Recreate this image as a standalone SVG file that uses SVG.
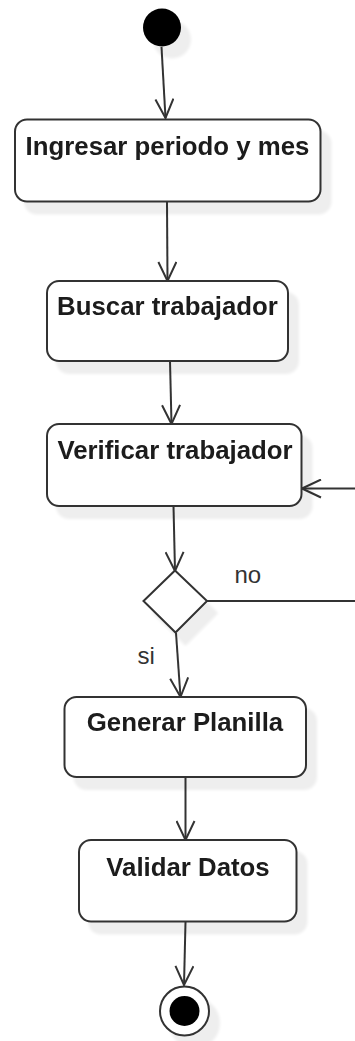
<svg xmlns="http://www.w3.org/2000/svg" width="355" height="1041" viewBox="0 0 355 1041">
  <defs>
    <style>
      .node { fill: #ffffff; stroke: #333333; stroke-width: 2; }
      .title { font-family: "Liberation Sans", Arial, sans-serif; font-size: 25.8px; font-weight: bold; fill: #1a1a1a; text-anchor: middle; }
      .guard { font-family: "Liberation Sans", Arial, sans-serif; font-size: 24px; fill: #333333; }
      .edge { fill: none; stroke: #333333; stroke-width: 2; }
    </style>
    <filter id="shadow" x="-20%" y="-20%" width="150%" height="160%">
      <feOffset in="SourceAlpha" dx="10" dy="12" result="off"/>
      <feGaussianBlur in="off" stdDeviation="1.5" result="blur"/>
      <feComponentTransfer in="blur" result="soft">
        <feFuncA type="linear" slope="0.07"/>
      </feComponentTransfer>
      <feMerge>
        <feMergeNode in="soft"/>
        <feMergeNode in="SourceGraphic"/>
      </feMerge>
    </filter>
    <marker id="open" viewBox="0 0 22 20" refX="20" refY="10" markerWidth="22" markerHeight="20" markerUnits="userSpaceOnUse" orient="auto">
      <path d="M1,1 L20,10 L1,19" fill="none" stroke="#333333" stroke-width="2"/>
    </marker>
  </defs>

  <rect width="355" height="1041" fill="#ffffff"/>

  <!-- connectors -->
  <g id="connectors">
    <path class="edge" d="M161.5,47 L165.5,118" marker-end="url(#open)"/>
    <path class="edge" d="M167,202 L167.5,281" marker-end="url(#open)"/>
    <path class="edge" d="M170,361 L171.5,424" marker-end="url(#open)"/>
    <path class="edge" d="M173.5,506 L175,571" marker-end="url(#open)"/>
    <path class="edge" d="M207,601 L355,601"/>
    <path class="edge" d="M355,488.5 L302,488.5" marker-end="url(#open)"/>
    <path class="edge" d="M176,633 L180.5,697" marker-end="url(#open)"/>
    <path class="edge" d="M185.5,777 L185.5,840" marker-end="url(#open)"/>
    <path class="edge" d="M185.5,922 L184,985" marker-end="url(#open)"/>
    <text class="guard" x="234.5" y="583">no</text>
    <text class="guard" x="137.5" y="664">si</text>
  </g>

  <!-- initial state -->
  <g id="start" filter="url(#shadow)">
    <circle cx="162" cy="27.5" r="19" fill="#000000"/>
  </g>

  <g id="ingresar" filter="url(#shadow)">
    <rect class="node" x="15" y="119.5" width="305.5" height="82" rx="12"/>
    <text class="title" x="167.5" y="155">Ingresar periodo y mes</text>
  </g>

  <g id="buscar" filter="url(#shadow)">
    <rect class="node" x="47" y="281" width="241" height="80" rx="12"/>
    <text class="title" x="167.5" y="315">Buscar trabajador</text>
  </g>

  <g id="verificar" filter="url(#shadow)">
    <rect class="node" x="47" y="424" width="254.5" height="82" rx="12"/>
    <text class="title" x="175" y="459">Verificar trabajador</text>
  </g>

  <g id="decision" filter="url(#shadow)">
    <path class="node" d="M175,570.5 L207,601 L175.5,632.5 L143.5,601 Z"/>
  </g>

  <g id="generar" filter="url(#shadow)">
    <rect class="node" x="64.5" y="697" width="241.5" height="80" rx="12"/>
    <text class="title" x="185" y="731">Generar Planilla</text>
  </g>

  <g id="validar" filter="url(#shadow)">
    <rect class="node" x="79" y="840" width="217.5" height="81.5" rx="12"/>
    <text class="title" x="188" y="876">Validar Datos</text>
  </g>

  <!-- final state -->
  <g id="end" filter="url(#shadow)">
    <circle cx="184.5" cy="1011" r="24.5" fill="#ffffff" stroke="#333333" stroke-width="2"/>
    <circle cx="184.5" cy="1011" r="15" fill="#000000"/>
  </g>
</svg>
